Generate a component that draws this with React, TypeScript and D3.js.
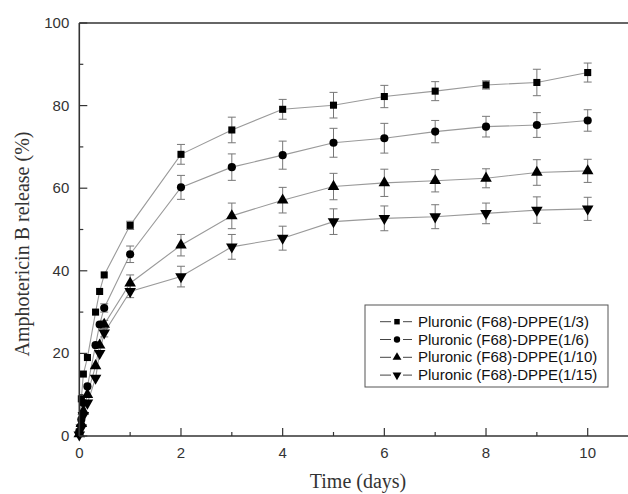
import React from "react";
import * as d3 from "d3";

// release data (days, % released, error)
const times = [0, 0.04, 0.08, 0.16, 0.32, 0.4, 0.49, 1, 2, 3, 4, 5, 6, 7, 8, 9, 10];

const seriesNames = [
  "Pluronic (F68)-DPPE(1/3)",
  "Pluronic (F68)-DPPE(1/6)",
  "Pluronic (F68)-DPPE(1/10)",
  "Pluronic (F68)-DPPE(1/15)",
];

const release13 = [1, 9, 15, 19, 30, 35, 39, 51, 68.2, 74.1, 79.1, 80.1, 82.2, 83.5, 85, 85.6, 88];
const release16 = [1, 4, 8, 12, 22, 27, 31, 44, 60.2, 65.1, 68, 71, 72.1, 73.7, 74.9, 75.3, 76.4];
const release110 = [0.5, 3, 6, 10, 17, 22, 27, 37, 46.2, 53.3, 57.1, 60.4, 61.3, 61.8, 62.4, 63.8, 64.2];
const release115 = [0.3, 2, 5, 8, 14, 20, 25, 35, 38.6, 45.8, 47.9, 51.9, 52.7, 53.1, 53.9, 54.7, 55];

const err13 = [0, 0.5, 0.5, 0.5, 0.8, 0.8, 0.8, 1, 2.4, 3.1, 2.4, 3.1, 2.7, 2.3, 1, 3.2, 2.3];
const err16 = [0, 0.5, 0.5, 0.5, 0.8, 0.8, 1, 2, 2.9, 3.2, 3.4, 3.5, 3.6, 2.7, 2.5, 3, 2.6];
const err110 = [0, 0.5, 0.5, 0.5, 0.8, 0.8, 1, 2, 2.6, 3.1, 3.1, 3.2, 3.3, 2.7, 2.3, 3.1, 2.8];
const err115 = [0, 0.5, 0.5, 0.5, 0.8, 0.8, 1, 1.5, 2.5, 3, 2.9, 3.1, 3, 2.9, 2.5, 3.2, 2.8];

const allValues = [release13, release16, release110, release115];
const allErrors = [err13, err16, err110, err115];

const xMajorTicks = [0, 2, 4, 6, 8, 10];
const xMinorTicks = [1, 3, 5, 7, 9];
const yMajorTicks = [0, 20, 40, 60, 80, 100];
const yMinorTicks = [10, 30, 50, 70, 90];

const W = 628, H = 494;
const left = 79.3, bottom = 436, top = 23;

const x = d3.scaleLinear().domain([0, 11]).range([left, left + 11 * 50.84]);
const y = d3.scaleLinear().domain([0, 100]).range([bottom, top]);

const symbolPath = (i: number) => {
  if (i === 0) return d3.symbol(d3.symbolSquare, 50)()!;
  if (i === 1) return d3.symbol(d3.symbolCircle, 52)()!;
  return d3.symbol(d3.symbolTriangle, 58)()!;
};

const Marker = ({ i, cx, cy }: { i: number; cx: number; cy: number }) => (
  <path
    d={symbolPath(i)}
    transform={`translate(${cx},${cy})${i === 3 ? " rotate(180)" : ""}`}
    fill="#000"
  />
);

export default function App() {
  const line = d3
    .line<number>()
    .x((_, k) => x(times[k]))
    .y((d) => y(d));

  const tickFont = { fontFamily: "'Liberation Sans', Arial, sans-serif", fontSize: 15, fill: "#333" };
  const titleFont = { fontFamily: "'Liberation Serif', 'Times New Roman', serif", fontSize: 20, fill: "#333" };

  return (
    <svg
      width={W}
      height={H}
      style={{ position: "absolute", left: 0, top: 0, background: "#fff" }}
    >
      {/* series lines */}
      {allValues.map((vals, i) => (
        <path key={"l" + i} d={line(vals)!} fill="none" stroke="#9a9a9a" strokeWidth={1.1} />
      ))}

      {/* error bars */}
      {allValues.map((vals, i) =>
        vals.map((v, k) => {
          const e = allErrors[i][k];
          if (e < 0.9) return null;
          const cx = x(times[k]);
          return (
            <g key={`e${i}-${k}`} stroke="#777" strokeWidth={1}>
              <line x1={cx} x2={cx} y1={y(v - e)} y2={y(v + e)} />
              <line x1={cx - 4} x2={cx + 4} y1={y(v + e)} y2={y(v + e)} />
              <line x1={cx - 4} x2={cx + 4} y1={y(v - e)} y2={y(v - e)} />
            </g>
          );
        })
      )}

      {/* markers */}
      {allValues.map((vals, i) =>
        vals.map((v, k) => <Marker key={`m${i}-${k}`} i={i} cx={x(times[k])} cy={y(v)} />)
      )}

      {/* frame */}
      <g stroke="#333" strokeWidth={1.6} fill="none">
        <line x1={left} x2={W + 5} y1={bottom} y2={bottom} />
        <line x1={left} x2={W + 5} y1={top} y2={top} />
        <line x1={left} x2={left} y1={top} y2={bottom} />
      </g>

      {/* x ticks */}
      <g stroke="#333" strokeWidth={1.2}>
        {xMajorTicks.map((t) => (
          <line key={"xt" + t} x1={x(t)} x2={x(t)} y1={bottom} y2={bottom - 8} />
        ))}
        {xMinorTicks.map((t) => (
          <line key={"xm" + t} x1={x(t)} x2={x(t)} y1={bottom} y2={bottom - 4} />
        ))}
        {yMajorTicks.map((t) => (
          <line key={"yt" + t} x1={left} x2={left + 8} y1={y(t)} y2={y(t)} />
        ))}
        {yMinorTicks.map((t) => (
          <line key={"ym" + t} x1={left} x2={left + 4} y1={y(t)} y2={y(t)} />
        ))}
      </g>

      {xMajorTicks.map((t) => (
        <text key={"xl" + t} x={x(t)} y={bottom + 22} textAnchor="middle" {...tickFont}>
          {t}
        </text>
      ))}
      {yMajorTicks.map((t) => (
        <text key={"yl" + t} x={left - 10} y={y(t) + 5} textAnchor="end" {...tickFont}>
          {t}
        </text>
      ))}

      <text x={358} y={488} textAnchor="middle" {...titleFont}>
        Time (days)
      </text>
      <text
        transform={`translate(29,244) rotate(-90)`}
        textAnchor="middle"
        {...titleFont}
      >
        Amphotericin B release (%)
      </text>

      {/* legend */}
      <rect x={365} y={305} width={243} height={82} fill="#fff" stroke="#555" strokeWidth={1} />
      {seriesNames.map((name, i) => {
        const ly = 321.7 + i * 17.8;
        return (
          <g key={"lg" + i}>
            <line x1={380} x2={391} y1={ly} y2={ly} stroke="#444" strokeWidth={1} />
            <line x1={403} x2={412} y1={ly} y2={ly} stroke="#444" strokeWidth={1} />
            <path
              d={
                i === 0
                  ? d3.symbol(d3.symbolSquare, 30)()!
                  : i === 1
                  ? d3.symbol(d3.symbolCircle, 32)()!
                  : d3.symbol(d3.symbolTriangle, 34)()!
              }
              transform={`translate(397,${ly})${i === 3 ? " rotate(180)" : ""}`}
              fill="#000"
            />
            <text x={418} y={ly + 5} {...tickFont} fill="#111">
              {name}
            </text>
          </g>
        );
      })}
    </svg>
  );
}
